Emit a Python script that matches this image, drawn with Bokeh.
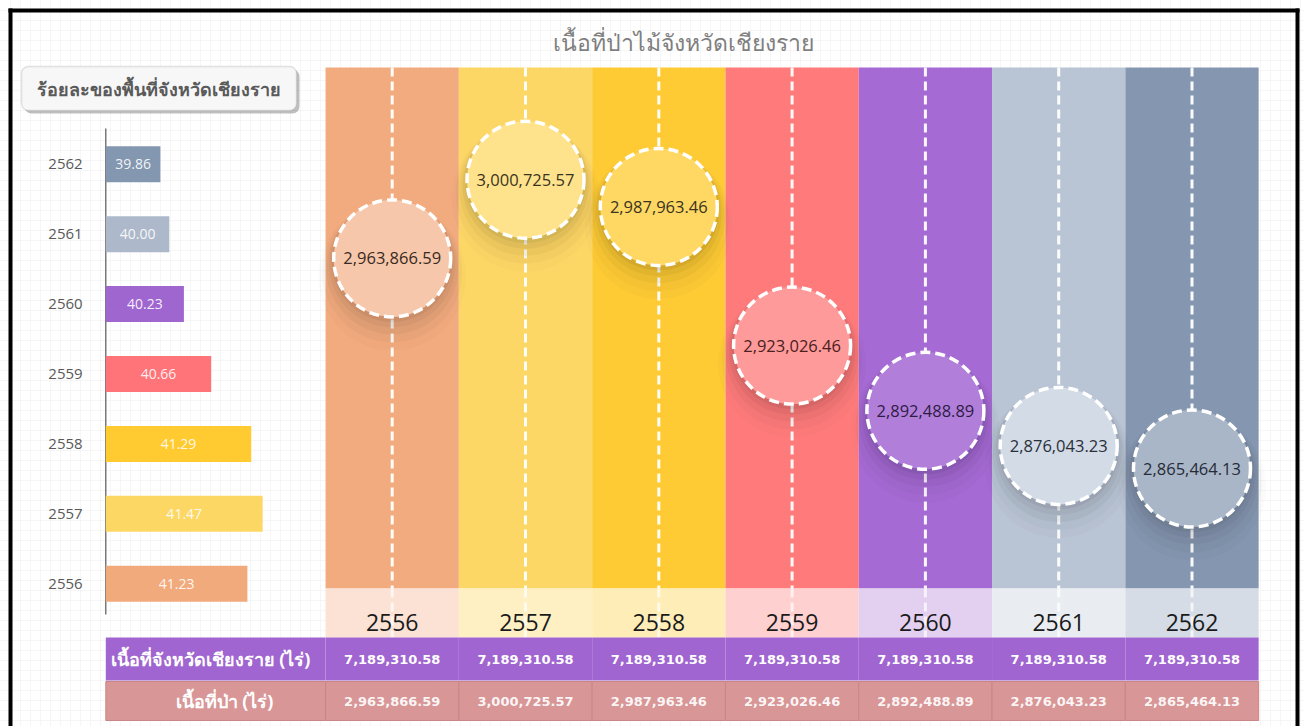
from bokeh.plotting import figure
from bokeh.models import Range1d, BoxAnnotation, Grid, SingleIntervalTicker
from bokeh.core.properties import value
from bokeh.embed import file_html
from bokeh.resources import INLINE

# ---------------- data ----------------
years = [2556, 2557, 2558, 2559, 2560, 2561, 2562]
forest_pct = [41.23, 41.47, 41.29, 40.66, 40.23, 40.00, 39.86]
forest_area = [2963866.59, 3000725.57, 2987963.46, 2923026.46, 2892488.89, 2876043.23, 2865464.13]
province_area = [7189310.58, 7189310.58, 7189310.58, 7189310.58, 7189310.58, 7189310.58, 7189310.58]
pct_axis_start = 39.0

title = "เนื้อที่ป่าไม้จังหวัดเชียงราย"
bar_title = "ร้อยละของพื้นที่จังหวัดเชียงราย"
row_labels = ["เนื้อที่จังหวัดเชียงราย (ไร่)", "เนื้อที่ป่า (ไร่)"]

# ---------------- styles ----------------
bar_colors = ["#f1aa7c", "#fdd764", "#ffcb30", "#ff7479", "#9f66cf", "#adb9ca", "#8497b0"]
column_colors = ["#f2ab7e", "#fdd766", "#fecb35", "#ff7b7b", "#a56ad4", "#b9c4d5", "#8597b0"]
band_colors = ["#fbe2d4", "#fff0c4", "#ffedb8", "#ffd0d0", "#e3d0f0", "#e9edf2", "#d5dce5"]
circle_colors = ["#f6c7aa", "#fee38c", "#fed863", "#fe9a9a", "#b17fda", "#d2dbe6", "#a9b6c8"]
circle_text_colors = ["#3a2a22", "#3a3322", "#3a3322", "#4a2020", "#2e1b45", "#2a2f3a", "#262b36"]
PURPLE = "#a065d0"
ROSE = "#d89697"
THAI = value("Noto Sans")
NUM = value("Open Sans")

W, H = 1304, 726
PX0, PX1 = 0, W
PY0, PY1 = 0, H


def lin_range(a, pa, b, pb, p_start, p_end):
    k = (b - a) / (pb - pa)
    return Range1d(start=a + (p_start - pa) * k, end=a + (p_end - pa) * k)


p = figure(width=W, height=H, x_range=Range1d(PX0, PX1), y_range=Range1d(PY1, PY0),
           output_backend="svg", toolbar_location=None, min_border=0,
           x_axis_location=None, y_axis_location=None,
           background_fill_color="#ffffff", border_fill_color="#ffffff",
           outline_line_color=None)
p.grid.visible = False
for dim in (0, 1):
    p.add_layout(Grid(dimension=dim, ticker=SingleIntervalTicker(interval=10),
                      grid_line_color="#eeeeee", grid_line_alpha=0.55))

p.extra_x_ranges = {
    "col": lin_range(years[0], 391.7, years[-1], 1191.5, PX0, PX1),
    "pct": lin_range(pct_axis_start, 105.3, pct_axis_start + 1.0, 168.8, PX0, PX1),
}
hi, lo = max(forest_area), min(forest_area)
p.extra_y_ranges = {
    "rai": lin_range(hi, 179.2, lo, 468.0, PY1, PY0),
    "row": lin_range(years[0], 583.3, years[-1], 163.7, PY1, PY0),
}
shadow_layers = [(3, 121, 0.05), (6, 126, 0.04), (10, 132, 0.035), (14, 140, 0.025), (18, 148, 0.015)]
for i, (off, _, _) in enumerate(shadow_layers):
    p.extra_y_ranges[f"sh{i}"] = lin_range(hi, 179.2 + off, lo, 468.0 + off, PY1, PY0)

# frame border
p.segment(x0=[8, 10, 1297], y0=[10, 8, 8], x1=[1299, 10, 1297], y1=[10, 726, 726],
          line_color="black", line_width=4)

# title
p.text(x=[683], y=[41], text=[title], text_font=THAI, text_font_size="23px",
       text_color="#7f7f7f", text_align="center", text_baseline="middle")

# left "button" header
p.add_layout(BoxAnnotation(left=24, right=299, top=69, bottom=113, fill_color="#000000",
                           fill_alpha=0.25, line_color=None, border_radius=7, level="underlay"))
p.add_layout(BoxAnnotation(left=21, right=296, top=66, bottom=110, fill_color="#f7f7f7",
                           fill_alpha=1.0, line_color="#a6a6a6", line_width=1.5,
                           border_radius=7, level="underlay"))
p.text(x=[158], y=[88], text=[bar_title], text_font=THAI, text_font_size="18px",
       text_font_style="bold", text_color="#5a5a5a", text_align="center", text_baseline="middle")

# left bar chart
p.segment(x0=[105.3], y0=[128], x1=[105.3], y1=[614], line_color="#595959", line_width=1.2)
p.hbar(y=years, left=pct_axis_start, right=forest_pct, height=0.515,
       x_range_name="pct", y_range_name="row", fill_color=bar_colors, line_color=None)
p.text(x=65, y=years, text=[str(y) for y in years], y_range_name="row",
       text_font=NUM, text_font_size="15px", text_color="#595959",
       text_align="center", text_baseline="middle")
mids = [(pct_axis_start + v) / 2 for v in forest_pct]
p.text(x=mids, y=years, text=[f"{v:.2f}" for v in forest_pct],
       x_range_name="pct", y_range_name="row", text_font=NUM, text_font_size="14px",
       text_color="#ffffff", text_alpha=0.9, text_align="center", text_baseline="middle")

# main columns
p.vbar(x=years, width=1.0, top=67, bottom=588, x_range_name="col",
       fill_color=column_colors, line_color=None)
p.vbar(x=years, width=1.0, top=588, bottom=637, x_range_name="col",
       fill_color=band_colors, line_color=None)
p.segment(x0=years, y0=67, x1=years, y1=588, x_range_name="col",
          line_color="white", line_width=3, line_dash="9 5", line_alpha=0.95)
p.segment(x0=years, y0=588, x1=years, y1=637, x_range_name="col",
          line_color="white", line_width=3, line_dash="9 5", line_alpha=0.7)
p.text(x=years, y=622, text=[str(y) for y in years], x_range_name="col",
       text_font=NUM, text_font_size="23px", text_color="#1a1a1a",
       text_align="center", text_baseline="middle")

# circle shadows (soft, several translucent layers)
for i, (off, s, a) in enumerate(shadow_layers):
    p.scatter(x=years, y=forest_area, size=s, marker="circle", x_range_name="col",
              y_range_name=f"sh{i}", fill_color="black", fill_alpha=a, line_color=None)
# circles
p.scatter(x=years, y=forest_area, size=117, marker="circle", x_range_name="col",
          y_range_name="rai", fill_color=circle_colors, line_color="white",
          line_width=3.5, line_dash="10 5")
p.text(x=years, y=forest_area, text=[f"{v:,.2f}" for v in forest_area],
       x_range_name="col", y_range_name="rai", text_font=NUM, text_font_size="16.5px",
       text_color=circle_text_colors, text_align="center", text_baseline="middle")

# table
p.quad(left=[105.3], right=[325], top=[637], bottom=[680], fill_color=PURPLE, line_color=None)
p.vbar(x=years, width=1.0, top=637, bottom=680, x_range_name="col",
       fill_color=PURPLE, line_color=None)
p.quad(left=[105.3], right=[325], top=[681], bottom=[720], fill_color=ROSE,
       line_color="#c98686", line_width=1)
p.vbar(x=years, width=1.0, top=681, bottom=720, x_range_name="col",
       fill_color=ROSE, line_color="#c98686", line_width=1)
p.text(x=[210, 224], y=[658.5, 700.5], text=row_labels, text_font=THAI,
       text_font_size="18px", text_font_style="bold", text_color="white",
       text_align="center", text_baseline="middle")
p.text(x=years, y=658.5, text=[f"{v:,.2f}" for v in province_area], x_range_name="col",
       text_font=value("DejaVu Sans"), text_font_size="13px", text_font_style="bold",
       text_color="white", text_align="center", text_baseline="middle")
p.text(x=years, y=700.5, text=[f"{v:,.2f}" for v in forest_area], x_range_name="col",
       text_font=value("DejaVu Sans"), text_font_size="13px", text_font_style="bold",
       text_color="white", text_alpha=0.92, text_align="center", text_baseline="middle")

open("out.html", "w").write(file_html(p, INLINE))
